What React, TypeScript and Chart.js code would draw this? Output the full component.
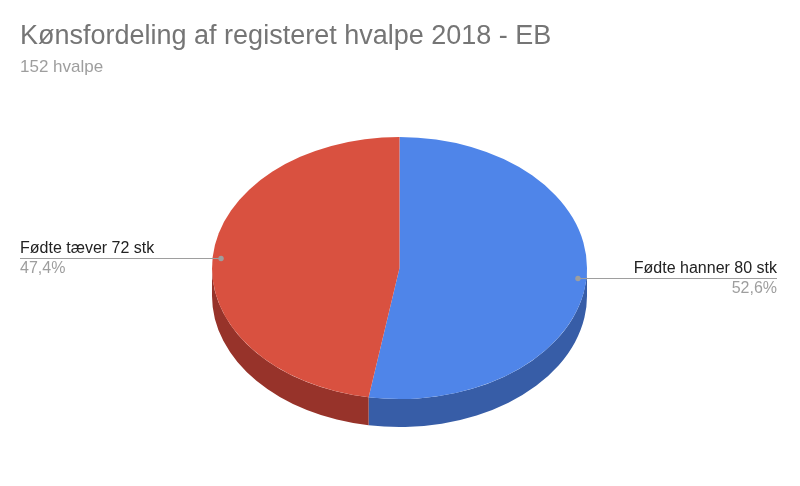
import React, { useEffect, useRef } from "react";
import { Chart, registerables } from "chart.js";

Chart.register(...registerables);

const categories: string[] = ["Fødte hanner 80 stk", "Fødte tæver 72 stk"];
const values: number[] = [80, 72];
const titleText = "Kønsfordeling af registeret hvalpe 2018 - EB";
const subtitleText = "152 hvalpe";

const TOP_COLORS = ["#4f85e9", "#d95140"];
const SIDE_COLORS = ["#375da7", "#97332a"];
const Y_RATIO = 0.699;
const DEPTH = 28;
const FONT = "'Liberation Sans', Arial, Helvetica, sans-serif";
const W = 800;
const H = 486;

const pie3d = {
  id: "pie3d",
  beforeDatasetsDraw(chart: any) {
    const meta = chart.getDatasetMeta(0);
    const ctx: CanvasRenderingContext2D = chart.ctx;
    let cx = 0;
    let cy = 0;
    meta.data.forEach((arc: any, i: number) => {
      const p = arc.getProps(["x", "y", "startAngle", "endAngle", "outerRadius"], true);
      cx = p.x;
      cy = p.y;
      const r = p.outerRadius;
      const a = Math.max(p.startAngle, 0);
      const b = Math.min(p.endAngle, Math.PI);
      if (b <= a) return;
      ctx.save();
      ctx.beginPath();
      ctx.ellipse(p.x, p.y, r, r * Y_RATIO, 0, a, b, false);
      ctx.ellipse(p.x, p.y + DEPTH, r, r * Y_RATIO, 0, b, a, true);
      ctx.closePath();
      ctx.fillStyle = SIDE_COLORS[i % SIDE_COLORS.length];
      ctx.fill();
      ctx.restore();
    });
    ctx.save();
    ctx.translate(cx, cy);
    ctx.scale(1, Y_RATIO);
    ctx.translate(-cx, -cy);
  },
  afterDatasetsDraw(chart: any) {
    chart.ctx.restore();
  },
  afterDraw(chart: any) {
    const meta = chart.getDatasetMeta(0);
    const ctx: CanvasRenderingContext2D = chart.ctx;
    const total = values.reduce((s, v) => s + v, 0);
    meta.data.forEach((arc: any, i: number) => {
      const p = arc.getProps(["x", "y", "startAngle", "endAngle", "outerRadius"], true);
      const mid = (p.startAngle + p.endAngle) / 2;
      const rr = p.outerRadius * 0.955;
      const px = p.x + rr * Math.cos(mid);
      const py = p.y + rr * Y_RATIO * Math.sin(mid);
      const left = Math.cos(mid) < 0;
      const lineEnd = left ? 20 : W - 23;
      const pct = ((values[i] / total) * 100).toFixed(1).replace(".", ",") + "%";
      ctx.save();
      ctx.strokeStyle = "#9e9e9e";
      ctx.lineWidth = 1;
      ctx.beginPath();
      ctx.moveTo(Math.round(px), Math.round(py) + 0.5);
      ctx.lineTo(lineEnd, Math.round(py) + 0.5);
      ctx.stroke();
      ctx.fillStyle = "#9e9e9e";
      ctx.beginPath();
      ctx.arc(px, Math.round(py) + 0.5, 2.7, 0, Math.PI * 2);
      ctx.fill();
      ctx.textAlign = left ? "left" : "right";
      ctx.textBaseline = "alphabetic";
      ctx.font = `16px ${FONT}`;
      ctx.fillStyle = "#222222";
      ctx.fillText(categories[i], lineEnd, Math.round(py) - 5.5);
      ctx.fillStyle = "#9e9e9e";
      ctx.fillText(pct, lineEnd, Math.round(py) + 15);
      ctx.restore();
    });
  },
};

export default function App() {
  const ref = useRef<HTMLCanvasElement | null>(null);
  useEffect(() => {
    if (!ref.current) return;
    const chart = new Chart(ref.current, {
      type: "pie",
      data: {
        labels: categories,
        datasets: [
          {
            data: values,
            backgroundColor: TOP_COLORS,
            borderWidth: 0,
            hoverOffset: 0,
          },
        ],
      },
      options: {
        responsive: false,
        animation: false,
        events: [],
        layout: { padding: { left: 20, right: 21, top: 0, bottom: 30.5 } },
        plugins: {
          legend: { display: false },
          tooltip: { enabled: false },
          title: {
            display: true,
            text: titleText,
            align: "start",
            color: "#757575",
            font: { family: FONT, size: 27, weight: "normal" },
            padding: { top: 20.2, bottom: 0 },
          },
          subtitle: {
            display: true,
            text: subtitleText,
            align: "start",
            color: "#9e9e9e",
            font: { family: FONT, size: 17, weight: "normal" },
            padding: { top: 4.5, bottom: 3 },
          },
        },
      } as any,
      plugins: [pie3d],
    });
    return () => chart.destroy();
  }, []);
  return (
    <div style={{ position: "absolute", left: 0, top: 0, width: W, height: H, background: "#ffffff" }}>
      <canvas ref={ref} width={W} height={H} style={{ display: "block", width: W, height: H }} />
    </div>
  );
}
